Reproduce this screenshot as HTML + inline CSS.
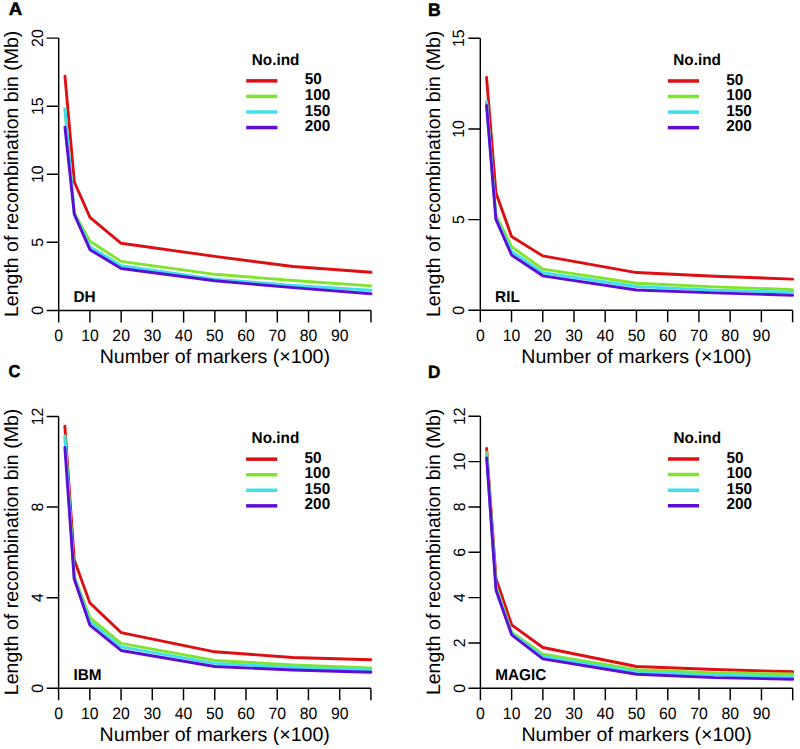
<!DOCTYPE html>
<html><head><meta charset="utf-8"><style>
html,body{margin:0;padding:0;background:#fff;width:800px;height:749px;overflow:hidden}
svg{display:block}
text{font-family:"Liberation Sans",sans-serif;fill:#000;text-rendering:geometricPrecision;font-kerning:none}
.tk{font-size:16.4px}
.ttl{font-size:19.6px}
.b{font-size:15.8px;font-weight:bold}
.lt{font-weight:bold;stroke:#000;stroke-width:0.5px;stroke-linejoin:miter}
.ax{stroke:#000;stroke-width:1.45;fill:none;stroke-linecap:butt}
.dl{fill:none;stroke-width:2.9;stroke-linecap:round;stroke-linejoin:round}
.ll{fill:none;stroke-width:3.5;stroke-linecap:butt}
</style></head><body>
<svg width="800" height="749" viewBox="0 0 800 749">
<rect width="800" height="749" fill="#fff"/>
<path d="M58.70 38.10V310.40M58.70 310.40H371.00" class="ax"/>
<path d="M46.70 310.40H58.70M46.70 242.32H58.70M46.70 174.25H58.70M46.70 106.18H58.70M46.70 38.10H58.70M58.70 310.40V322.40M89.93 310.40V322.40M121.16 310.40V322.40M152.39 310.40V322.40M183.62 310.40V322.40M214.85 310.40V322.40M246.08 310.40V322.40M277.31 310.40V322.40M308.54 310.40V322.40M339.77 310.40V322.40M371.00 310.40V322.40" class="ax"/>
<text class="tk" transform="translate(42.80 310.40) rotate(-90) scale(0.965 1)" text-anchor="middle">0</text>
<text class="tk" transform="translate(42.80 242.32) rotate(-90) scale(0.965 1)" text-anchor="middle">5</text>
<text class="tk" transform="translate(42.80 174.25) rotate(-90) scale(0.965 1)" text-anchor="middle">10</text>
<text class="tk" transform="translate(42.80 106.18) rotate(-90) scale(0.965 1)" text-anchor="middle">15</text>
<text class="tk" transform="translate(42.80 38.10) rotate(-90) scale(0.965 1)" text-anchor="middle">20</text>
<text class="tk" transform="translate(58.70 341.00) scale(0.965 1)" text-anchor="middle">0</text>
<text class="tk" transform="translate(89.93 341.00) scale(0.965 1)" text-anchor="middle">10</text>
<text class="tk" transform="translate(121.16 341.00) scale(0.965 1)" text-anchor="middle">20</text>
<text class="tk" transform="translate(152.39 341.00) scale(0.965 1)" text-anchor="middle">30</text>
<text class="tk" transform="translate(183.62 341.00) scale(0.965 1)" text-anchor="middle">40</text>
<text class="tk" transform="translate(214.85 341.00) scale(0.965 1)" text-anchor="middle">50</text>
<text class="tk" transform="translate(246.08 341.00) scale(0.965 1)" text-anchor="middle">60</text>
<text class="tk" transform="translate(277.31 341.00) scale(0.965 1)" text-anchor="middle">70</text>
<text class="tk" transform="translate(308.54 341.00) scale(0.965 1)" text-anchor="middle">80</text>
<text class="tk" transform="translate(339.77 341.00) scale(0.965 1)" text-anchor="middle">90</text>
<text class="ttl" x="214.85" y="362.80" text-anchor="middle">Number of markers (×100)</text>
<text class="ttl" transform="translate(18.20 173.85) rotate(-90)" text-anchor="middle" style="font-size:19.52px">Length of recombination bin (Mb)</text>
<polyline points="64.95,76.22 74.31,182.01 89.93,217.27 121.16,243.28 214.85,256.35 292.93,266.56 371.00,272.28" stroke="#de0f12" class="dl"/>
<polyline points="64.95,109.17 74.31,213.05 89.93,241.24 121.16,261.39 214.85,274.32 292.93,280.45 371.00,285.89" stroke="#80e42a" class="dl"/>
<polyline points="64.95,108.90 74.31,213.73 89.93,246.68 121.16,265.74 214.85,279.09 292.93,285.35 371.00,290.25" stroke="#3fe0ec" class="dl"/>
<polyline points="64.95,127.28 74.31,214.41 89.93,249.68 121.16,268.47 214.85,280.72 292.93,287.66 371.00,293.79" stroke="#5c0ed4" class="dl"/>
<text class="b" transform="translate(73.50 302.40) scale(0.97 1)">DH</text>
<text class="b" transform="translate(251.70 65.10) scale(0.97 1)">No.ind</text>
<path d="M246.20 80.85H277.40" stroke="#de0f12" class="ll"/>
<text class="b" transform="translate(304.70 84.40) scale(0.97 1)">50</text>
<path d="M246.20 96.42H277.40" stroke="#80e42a" class="ll"/>
<text class="b" transform="translate(304.70 99.97) scale(0.97 1)">100</text>
<path d="M246.20 111.99H277.40" stroke="#3fe0ec" class="ll"/>
<text class="b" transform="translate(304.70 115.54) scale(0.97 1)">150</text>
<path d="M246.20 127.56H277.40" stroke="#5c0ed4" class="ll"/>
<text class="b" transform="translate(304.70 131.11) scale(0.97 1)">200</text>
<text class="lt" transform="translate(8.79 14.65) scale(1.035 1)" style="font-size:18.0px">A</text>
<path d="M480.30 38.20V310.30M480.30 310.30H792.60" class="ax"/>
<path d="M468.30 310.30H480.30M468.30 219.60H480.30M468.30 128.90H480.30M468.30 38.20H480.30M480.30 310.30V322.30M511.53 310.30V322.30M542.76 310.30V322.30M573.99 310.30V322.30M605.22 310.30V322.30M636.45 310.30V322.30M667.68 310.30V322.30M698.91 310.30V322.30M730.14 310.30V322.30M761.37 310.30V322.30M792.60 310.30V322.30" class="ax"/>
<text class="tk" transform="translate(464.40 310.30) rotate(-90) scale(0.965 1)" text-anchor="middle">0</text>
<text class="tk" transform="translate(464.40 219.60) rotate(-90) scale(0.965 1)" text-anchor="middle">5</text>
<text class="tk" transform="translate(464.40 128.90) rotate(-90) scale(0.965 1)" text-anchor="middle">10</text>
<text class="tk" transform="translate(464.40 38.20) rotate(-90) scale(0.965 1)" text-anchor="middle">15</text>
<text class="tk" transform="translate(480.30 340.90) scale(0.965 1)" text-anchor="middle">0</text>
<text class="tk" transform="translate(511.53 340.90) scale(0.965 1)" text-anchor="middle">10</text>
<text class="tk" transform="translate(542.76 340.90) scale(0.965 1)" text-anchor="middle">20</text>
<text class="tk" transform="translate(573.99 340.90) scale(0.965 1)" text-anchor="middle">30</text>
<text class="tk" transform="translate(605.22 340.90) scale(0.965 1)" text-anchor="middle">40</text>
<text class="tk" transform="translate(636.45 340.90) scale(0.965 1)" text-anchor="middle">50</text>
<text class="tk" transform="translate(667.68 340.90) scale(0.965 1)" text-anchor="middle">60</text>
<text class="tk" transform="translate(698.91 340.90) scale(0.965 1)" text-anchor="middle">70</text>
<text class="tk" transform="translate(730.14 340.90) scale(0.965 1)" text-anchor="middle">80</text>
<text class="tk" transform="translate(761.37 340.90) scale(0.965 1)" text-anchor="middle">90</text>
<text class="ttl" x="636.45" y="362.70" text-anchor="middle">Number of markers (×100)</text>
<text class="ttl" transform="translate(439.80 173.85) rotate(-90)" text-anchor="middle" style="font-size:19.52px">Length of recombination bin (Mb)</text>
<polyline points="486.55,77.38 495.92,192.75 511.53,236.47 542.76,255.88 636.45,272.57 714.53,276.20 792.60,279.10" stroke="#de0f12" class="dl"/>
<polyline points="486.55,101.69 495.92,215.06 511.53,246.63 542.76,269.12 636.45,283.27 714.53,286.90 792.60,289.62" stroke="#80e42a" class="dl"/>
<polyline points="486.55,101.69 495.92,217.79 511.53,251.35 542.76,272.75 636.45,286.54 714.53,290.16 792.60,292.16" stroke="#3fe0ec" class="dl"/>
<polyline points="486.55,105.50 495.92,219.42 511.53,254.97 542.76,275.83 636.45,289.98 714.53,292.89 792.60,295.24" stroke="#5c0ed4" class="dl"/>
<text class="b" transform="translate(495.10 302.30) scale(0.97 1)">RIL</text>
<text class="b" transform="translate(673.30 65.20) scale(0.97 1)">No.ind</text>
<path d="M667.80 80.95H699.00" stroke="#de0f12" class="ll"/>
<text class="b" transform="translate(726.30 84.50) scale(0.97 1)">50</text>
<path d="M667.80 96.52H699.00" stroke="#80e42a" class="ll"/>
<text class="b" transform="translate(726.30 100.07) scale(0.97 1)">100</text>
<path d="M667.80 112.09H699.00" stroke="#3fe0ec" class="ll"/>
<text class="b" transform="translate(726.30 115.64) scale(0.97 1)">150</text>
<path d="M667.80 127.66H699.00" stroke="#5c0ed4" class="ll"/>
<text class="b" transform="translate(726.30 131.21) scale(0.97 1)">200</text>
<text class="lt" transform="translate(428.07 15.75) scale(0.97 1)" style="font-size:18.17px">B</text>
<path d="M58.60 416.40V688.30M58.60 688.30H370.90" class="ax"/>
<path d="M46.60 688.30H58.60M46.60 597.67H58.60M46.60 507.03H58.60M46.60 416.40H58.60M58.60 688.30V700.30M89.83 688.30V700.30M121.06 688.30V700.30M152.29 688.30V700.30M183.52 688.30V700.30M214.75 688.30V700.30M245.98 688.30V700.30M277.21 688.30V700.30M308.44 688.30V700.30M339.67 688.30V700.30M370.90 688.30V700.30" class="ax"/>
<text class="tk" transform="translate(42.70 688.30) rotate(-90) scale(0.965 1)" text-anchor="middle">0</text>
<text class="tk" transform="translate(42.70 597.67) rotate(-90) scale(0.965 1)" text-anchor="middle">4</text>
<text class="tk" transform="translate(42.70 507.03) rotate(-90) scale(0.965 1)" text-anchor="middle">8</text>
<text class="tk" transform="translate(42.70 416.40) rotate(-90) scale(0.965 1)" text-anchor="middle">12</text>
<text class="tk" transform="translate(58.60 718.90) scale(0.965 1)" text-anchor="middle">0</text>
<text class="tk" transform="translate(89.83 718.90) scale(0.965 1)" text-anchor="middle">10</text>
<text class="tk" transform="translate(121.06 718.90) scale(0.965 1)" text-anchor="middle">20</text>
<text class="tk" transform="translate(152.29 718.90) scale(0.965 1)" text-anchor="middle">30</text>
<text class="tk" transform="translate(183.52 718.90) scale(0.965 1)" text-anchor="middle">40</text>
<text class="tk" transform="translate(214.75 718.90) scale(0.965 1)" text-anchor="middle">50</text>
<text class="tk" transform="translate(245.98 718.90) scale(0.965 1)" text-anchor="middle">60</text>
<text class="tk" transform="translate(277.21 718.90) scale(0.965 1)" text-anchor="middle">70</text>
<text class="tk" transform="translate(308.44 718.90) scale(0.965 1)" text-anchor="middle">80</text>
<text class="tk" transform="translate(339.67 718.90) scale(0.965 1)" text-anchor="middle">90</text>
<text class="ttl" x="214.75" y="740.70" text-anchor="middle">Number of markers (×100)</text>
<text class="ttl" transform="translate(18.10 551.95) rotate(-90)" text-anchor="middle" style="font-size:19.52px">Length of recombination bin (Mb)</text>
<polyline points="64.85,426.14 74.22,559.83 89.83,602.88 121.06,632.56 214.75,651.82 292.83,657.48 370.90,659.75" stroke="#de0f12" class="dl"/>
<polyline points="64.85,435.89 74.22,576.14 89.83,617.61 121.06,643.44 214.75,660.43 292.83,664.96 370.90,667.91" stroke="#80e42a" class="dl"/>
<polyline points="64.85,435.89 74.22,577.73 89.83,621.46 121.06,646.84 214.75,663.38 292.83,667.45 370.90,669.95" stroke="#3fe0ec" class="dl"/>
<polyline points="64.85,447.44 74.22,579.09 89.83,625.08 121.06,650.46 214.75,666.55 292.83,669.95 370.90,672.21" stroke="#5c0ed4" class="dl"/>
<text class="b" transform="translate(73.40 680.30) scale(0.97 1)">IBM</text>
<text class="b" transform="translate(251.60 443.40) scale(0.97 1)">No.ind</text>
<path d="M246.10 459.15H277.30" stroke="#de0f12" class="ll"/>
<text class="b" transform="translate(304.60 462.70) scale(0.97 1)">50</text>
<path d="M246.10 474.72H277.30" stroke="#80e42a" class="ll"/>
<text class="b" transform="translate(304.60 478.27) scale(0.97 1)">100</text>
<path d="M246.10 490.29H277.30" stroke="#3fe0ec" class="ll"/>
<text class="b" transform="translate(304.60 493.84) scale(0.97 1)">150</text>
<path d="M246.10 505.86H277.30" stroke="#5c0ed4" class="ll"/>
<text class="b" transform="translate(304.60 509.41) scale(0.97 1)">200</text>
<text class="lt" transform="translate(8.43 377.43) scale(0.95 1)" style="font-size:17.3px">C</text>
<path d="M480.40 416.30V688.30M480.40 688.30H792.70" class="ax"/>
<path d="M468.40 688.30H480.40M468.40 642.97H480.40M468.40 597.63H480.40M468.40 552.30H480.40M468.40 506.97H480.40M468.40 461.63H480.40M468.40 416.30H480.40M480.40 688.30V700.30M511.63 688.30V700.30M542.86 688.30V700.30M574.09 688.30V700.30M605.32 688.30V700.30M636.55 688.30V700.30M667.78 688.30V700.30M699.01 688.30V700.30M730.24 688.30V700.30M761.47 688.30V700.30M792.70 688.30V700.30" class="ax"/>
<text class="tk" transform="translate(464.50 688.30) rotate(-90) scale(0.965 1)" text-anchor="middle">0</text>
<text class="tk" transform="translate(464.50 642.97) rotate(-90) scale(0.965 1)" text-anchor="middle">2</text>
<text class="tk" transform="translate(464.50 597.63) rotate(-90) scale(0.965 1)" text-anchor="middle">4</text>
<text class="tk" transform="translate(464.50 552.30) rotate(-90) scale(0.965 1)" text-anchor="middle">6</text>
<text class="tk" transform="translate(464.50 506.97) rotate(-90) scale(0.965 1)" text-anchor="middle">8</text>
<text class="tk" transform="translate(464.50 461.63) rotate(-90) scale(0.965 1)" text-anchor="middle">10</text>
<text class="tk" transform="translate(464.50 416.30) rotate(-90) scale(0.965 1)" text-anchor="middle">12</text>
<text class="tk" transform="translate(480.40 718.90) scale(0.965 1)" text-anchor="middle">0</text>
<text class="tk" transform="translate(511.63 718.90) scale(0.965 1)" text-anchor="middle">10</text>
<text class="tk" transform="translate(542.86 718.90) scale(0.965 1)" text-anchor="middle">20</text>
<text class="tk" transform="translate(574.09 718.90) scale(0.965 1)" text-anchor="middle">30</text>
<text class="tk" transform="translate(605.32 718.90) scale(0.965 1)" text-anchor="middle">40</text>
<text class="tk" transform="translate(636.55 718.90) scale(0.965 1)" text-anchor="middle">50</text>
<text class="tk" transform="translate(667.78 718.90) scale(0.965 1)" text-anchor="middle">60</text>
<text class="tk" transform="translate(699.01 718.90) scale(0.965 1)" text-anchor="middle">70</text>
<text class="tk" transform="translate(730.24 718.90) scale(0.965 1)" text-anchor="middle">80</text>
<text class="tk" transform="translate(761.47 718.90) scale(0.965 1)" text-anchor="middle">90</text>
<text class="ttl" x="636.55" y="740.70" text-anchor="middle">Number of markers (×100)</text>
<text class="ttl" transform="translate(439.90 551.90) rotate(-90)" text-anchor="middle" style="font-size:19.52px">Length of recombination bin (Mb)</text>
<polyline points="486.65,448.49 496.01,578.82 511.63,624.83 542.86,647.50 636.55,666.54 714.62,669.49 792.70,671.75" stroke="#de0f12" class="dl"/>
<polyline points="486.65,452.11 496.01,586.30 511.63,632.09 542.86,654.30 636.55,669.71 714.62,672.89 792.70,674.02" stroke="#80e42a" class="dl"/>
<polyline points="486.65,455.51 496.01,588.57 511.63,633.45 542.86,656.34 636.55,671.98 714.62,675.15 792.70,676.74" stroke="#3fe0ec" class="dl"/>
<polyline points="486.65,458.01 496.01,590.15 511.63,634.81 542.86,658.83 636.55,674.25 714.62,677.65 792.70,679.23" stroke="#5c0ed4" class="dl"/>
<text class="b" transform="translate(495.20 680.30) scale(0.97 1)">MAGIC</text>
<text class="b" transform="translate(673.40 443.30) scale(0.97 1)">No.ind</text>
<path d="M667.90 459.05H699.10" stroke="#de0f12" class="ll"/>
<text class="b" transform="translate(726.40 462.60) scale(0.97 1)">50</text>
<path d="M667.90 474.62H699.10" stroke="#80e42a" class="ll"/>
<text class="b" transform="translate(726.40 478.17) scale(0.97 1)">100</text>
<path d="M667.90 490.19H699.10" stroke="#3fe0ec" class="ll"/>
<text class="b" transform="translate(726.40 493.74) scale(0.97 1)">150</text>
<path d="M667.90 505.76H699.10" stroke="#5c0ed4" class="ll"/>
<text class="b" transform="translate(726.40 509.31) scale(0.97 1)">200</text>
<text class="lt" transform="translate(428.10 377.50) scale(0.962 1)" style="font-size:17.8px">D</text>
</svg>
</body></html>
